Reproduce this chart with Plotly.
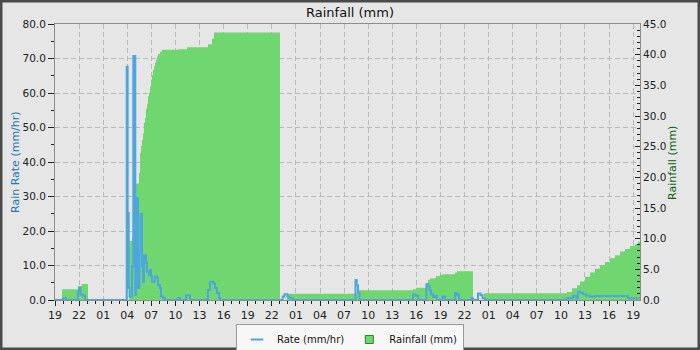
import plotly.graph_objects as go
import pandas as pd

# ---------------- data ----------------
start_time = "2024-05-10 19:00"
end_offset_hours = 72.85

# cumulative rainfall (mm), step values starting at given hour offsets from start
rain_hours = [0.0, 0.87, 2.86, 3.33, 4.11, 9.22, 9.59, 10.09, 10.46, 10.59, 10.71, 10.83,
              10.96, 11.08, 11.21, 11.33, 11.46, 11.58, 11.71, 11.83, 11.96, 12.08, 12.20,
              12.33, 12.45, 12.58, 12.70, 12.83, 13.08, 13.33, 15.32, 16.44, 19.05, 19.55,
              19.80, 28.02, 28.89, 37.61, 44.58, 44.96, 46.16, 46.45, 46.70, 47.32, 47.45,
              47.95, 48.32, 49.81, 50.06, 52.05, 53.42, 63.76, 64.38, 65.01, 65.38, 66.00,
              66.63, 67.25, 67.87, 68.49, 69.12, 69.74, 70.36, 70.99, 71.61, 72.23, 72.60,
              72.85]
rain_mm = [0.0, 1.75, 2.3, 2.6, 0.0, 9.6, 10.3, 19.0, 20.7, 24.0, 25.1, 26.1,
           27.2, 28.9, 29.7, 31.2, 32.0, 33.2, 33.8, 34.8, 35.9, 36.7, 37.5,
           38.1, 38.7, 39.2, 39.7, 40.1, 40.5, 40.8, 40.9, 41.2, 41.7, 42.6,
           43.6, 0.0, 1.0, 1.6, 1.75, 2.0, 2.7, 3.3, 3.5, 3.6, 3.9,
           4.1, 4.2, 4.5, 4.7, 0.0, 1.1, 1.3, 1.9, 2.4, 3.0, 3.8,
           4.5, 5.1, 5.7, 6.2, 6.8, 7.3, 7.9, 8.3, 8.8, 9.1, 9.5,
           9.5]

# rain rate (mm/hr)
rate_hours = [0.0, 1.0, 1.37, 2.86, 2.99, 3.18, 3.49, 3.74, 8.93, 9.05, 9.18, 9.28,
              9.59, 9.75, 10.0, 10.09, 10.34, 10.52, 10.65, 10.83, 10.96, 11.08, 11.33,
              11.46, 11.71, 11.83, 11.96, 12.08, 12.45, 12.70, 12.83, 13.08, 13.20, 13.45,
              13.70, 15.32, 15.57, 16.31, 16.81, 19.05, 19.30, 19.68, 19.93, 20.17, 20.42,
              20.55, 28.36, 28.58, 28.95, 29.20, 29.64, 37.42, 37.57, 37.73, 37.92, 44.58,
              44.96, 45.21, 46.26, 46.45, 46.64, 46.82, 47.07, 47.32, 47.57, 48.26, 48.57,
              49.81, 50.06, 50.31, 51.87, 52.05, 52.68, 52.99, 53.24, 53.55, 63.72, 64.51,
              64.94, 65.13, 65.44, 65.75, 66.13, 66.63, 67.25, 71.36, 72.85]
rate_mmhr = [0.0, 0.5, 0.0, 2.5, 3.5, 1.5, 1.2, 0.0, 67.6, 25.2, 3.5, 1.0,
             9.7, 70.7, 1.5, 29.6, 3.5, 14.2, 24.9, 9.7, 5.3, 13.0, 10.7,
             8.2, 7.2, 8.7, 6.8, 5.3, 6.8, 6.4, 4.3, 3.5, 1.0, 0.5,
             0.0, 0.6, 0.0, 1.4, 0.0, 2.9, 5.3, 4.8, 3.5, 2.0, 0.5,
             0.0, 1.0, 1.7, 1.0, 0.5, 0.0, 5.8, 4.3, 2.0, 0.0, 1.6,
             1.2, 0.0, 4.6, 4.0, 2.9, 1.7, 0.9, 1.2, 0.0, 1.0, 0.0,
             2.0, 1.5, 0.0, 0.5, 0.0, 1.9, 1.4, 0.5, 0.0, 0.5, 1.25,
             0.5, 2.4, 2.1, 1.7, 1.25, 1.0, 1.15, 0.5, 0.5]

title_text = "Rainfall (mm)"
rate_name = "Rate (mm/hr)"
rain_name = "Rainfall (mm)"
left_title = "Rain Rate (mm/hr)"
right_title = "Rainfall (mm)"

# ---------------- styles ----------------
FONT = "DejaVu Sans"
BG = "#e6e6e6"
GREEN = "#70d670"
BLUE = "#4ea6dd"
GRID = "#b9b9b9"
LINE = "#8c8c8c"
TICK = "#222222"

t0 = pd.Timestamp(start_time)
rain_x = [t0 + pd.Timedelta(hours=h) for h in rain_hours]
rate_x = [t0 + pd.Timedelta(hours=h) for h in rate_hours]
x_end = t0 + pd.Timedelta(hours=end_offset_hours)

fig = go.Figure()

fig.add_trace(go.Scatter(
    x=rain_x, y=rain_mm, yaxis="y", mode="lines", line=dict(shape="hv", width=0, color=GREEN),
    fill="tozeroy", fillcolor=GREEN, showlegend=False, hoverinfo="skip"))

fig.add_trace(go.Scatter(
    x=rate_x, y=rate_mmhr, yaxis="y2", mode="lines", line=dict(shape="hv", width=2, color=BLUE),
    showlegend=False, hoverinfo="skip"))

# legend entries
fig.add_trace(go.Scatter(
    x=[None], y=[None], yaxis="y2", mode="markers", name=rate_name,
    marker=dict(symbol="line-ew", size=9, color=BLUE, line=dict(color=BLUE, width=2))))
fig.add_trace(go.Scatter(
    x=[None], y=[None], yaxis="y", mode="markers", name=rain_name,
    marker=dict(symbol="square", size=8, color=GREEN, line=dict(color="#2f7f2f", width=1))))

W, H = 700, 350
ml, mr, mt, mb = 55, 60, 24, 50
pw, ph = W - ml - mr, H - mt - mb


def px_x(x):
    return (x - ml) / pw


def px_y(y):
    return (H - mb - y) / ph


fig.update_layout(
    width=W, height=H,
    margin=dict(l=ml, r=mr, t=mt, b=mb, autoexpand=False),
    paper_bgcolor=BG, plot_bgcolor=BG,
    font=dict(family=FONT, size=10.5, color=TICK),
    title=dict(text=title_text, x=0.5, xref="container", xanchor="center",
               y=1 - 12 / H, yref="container", yanchor="middle",
               font=dict(family=FONT, size=13, color="#111111")),
    xaxis=dict(
        type="date", range=[t0, x_end], tick0=t0, dtick=3 * 3600000, tickformat="%H",
        ticks="outside", ticklen=5, tickcolor=TICK, tickwidth=1,
        minor=dict(dtick=3600000, ticks="outside", ticklen=3, tickcolor=TICK, showgrid=False),
        showgrid=True, gridcolor=GRID, griddash="5px,3px", gridwidth=1,
        showline=True, linecolor=LINE, linewidth=1, mirror=True,
        zeroline=False, tickfont=dict(size=11), fixedrange=True),
    yaxis=dict(
        side="right", range=[0, 45], dtick=5, tickformat=".1f",
        ticks="inside", ticklen=5, tickcolor=TICK,
        minor=dict(dtick=1, ticks="inside", ticklen=3, tickcolor=TICK, showgrid=False),
        showgrid=False, zeroline=False, showline=True, linecolor=LINE, linewidth=1,
        tickfont=dict(size=10.5)),
    yaxis2=dict(
        side="left", overlaying="y", range=[0, 80], dtick=10, tickformat=".1f",
        ticks="outside", ticklen=6, tickcolor=TICK,
        minor=dict(dtick=5, ticks="outside", ticklen=3, tickcolor=TICK, showgrid=False),
        showgrid=True, gridcolor=GRID, griddash="5px,3px", gridwidth=1,
        zeroline=False, showline=True, linecolor=LINE, linewidth=1,
        tickfont=dict(size=10.5)),
    legend=dict(
        orientation="h", xref="container", x=0.5, xanchor="center",
        yref="container", y=1 - 324 / H, yanchor="top",
        bgcolor="#f7f7f7", bordercolor="#9a9a9a", borderwidth=1,
        font=dict(family=FONT, size=10, color="#111111"), itemwidth=30,
        tracegroupgap=0),
    annotations=[
        dict(text=left_title, xref="paper", yref="paper", x=px_x(15), y=0.5,
             textangle=-90, showarrow=False, xanchor="center", yanchor="middle",
             font=dict(family=FONT, size=11, color="#1f78b0")),
        dict(text=right_title, xref="paper", yref="paper", x=px_x(672), y=px_y(163),
             textangle=-90, showarrow=False, xanchor="center", yanchor="middle",
             font=dict(family=FONT, size=11, color="#0f5f0f")),
    ],
    shapes=[
        dict(type="rect", xref="paper", yref="paper",
             x0=px_x(0), x1=px_x(W), y0=px_y(H), y1=px_y(0),
             line=dict(color="#4a4a4a", width=5), fillcolor="rgba(0,0,0,0)", layer="above"),
    ],
)

fig.write_html("out.html")
